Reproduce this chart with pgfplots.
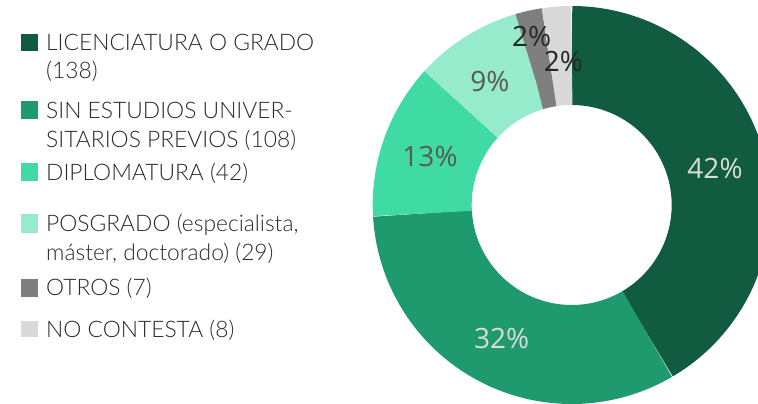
\documentclass[border=0pt]{standalone}
\usepackage{pgfplots}
\usepackage{pgfplotstable}
\pgfplotsset{compat=1.18}
\usepackage{fontspec}
\setmainfont{Lato}[UprightFont=* Light]
\newfontfamily\pctfont{Open Sans}

\definecolor{cLic}{HTML}{115C40}
\definecolor{cSin}{HTML}{1E9A6E}
\definecolor{cDip}{HTML}{40DBA4}
\definecolor{cPos}{HTML}{95EBCB}
\definecolor{cOtr}{HTML}{7F7F7F}
\definecolor{cNoc}{HTML}{D9D9D9}
\definecolor{txt}{HTML}{2A2A2A}

\pgfplotstableread{
cat value
lic 138
sin 108
dip 42
pos 29
otr 7
noc 8
}\datatable

\pgfplotstablegetelem{0}{value}\of\datatable \edef\vA{\pgfplotsretval}
\pgfplotstablegetelem{1}{value}\of\datatable \edef\vB{\pgfplotsretval}
\pgfplotstablegetelem{2}{value}\of\datatable \edef\vC{\pgfplotsretval}
\pgfplotstablegetelem{3}{value}\of\datatable \edef\vD{\pgfplotsretval}
\pgfplotstablegetelem{4}{value}\of\datatable \edef\vE{\pgfplotsretval}
\pgfplotstablegetelem{5}{value}\of\datatable \edef\vF{\pgfplotsretval}
\pgfmathsetmacro\tot{\vA+\vB+\vC+\vD+\vE+\vF}
\pgfmathsetmacro\aA{90-360*((\vA)/\tot)}
\pgfmathsetmacro\aB{90-360*((\vA+\vB)/\tot)}
\pgfmathsetmacro\aC{90-360*((\vA+\vB+\vC)/\tot)}
\pgfmathsetmacro\aD{90-360*((\vA+\vB+\vC+\vD)/\tot)}
\pgfmathsetmacro\aE{90-360*((\vA+\vB+\vC+\vD+\vE)/\tot)}

\def\cx{571.7}
\def\cy{199}
\def\Rm{149.5}

% sector as a thick arc with butt caps: #1 from angle, #2 to angle, #3 colour
\newcommand\sector[3]{%
  \addplot[draw=#3, line width=99pt, line cap=butt, domain=#1:#2, samples=120, no marks] ({\cx+\Rm*cos(x)},{\cy+\Rm*sin(x)});
}

\begin{document}
\begin{tikzpicture}
\useasboundingbox (0,0) rectangle (758pt,404pt);
\begin{axis}[
  at={(0,0)}, anchor=south west,
  scale only axis, width=758pt, height=404pt,
  xmin=0, xmax=758, ymin=0, ymax=404,
  hide axis, clip=true,
]
\sector{\aA}{90}{cLic}
\sector{\aB}{\aA}{cSin}
\sector{\aC}{\aB}{cDip}
\sector{\aD}{\aC}{cPos}
\sector{\aE}{\aD}{cOtr}
\sector{-270}{\aE}{cNoc}

% percentage labels
\begin{scope}[every node/.style={font=\pctfont\fontsize{28}{30}\selectfont, inner sep=0pt}]
\node[text=cNoc!95!white] at (axis cs:715,235) {42\%};
\node[text=cNoc!95!white] at (axis cs:501.7,65.7) {32\%};
\node[text=black!65] at (axis cs:430,247.3) {13\%};
\node[text=black!65] at (axis cs:490,322.3) {9\%};
\node[text=black!85] at (axis cs:531.7,367.3) {2\%};
\node[text=black!85] at (axis cs:563.3,342.3) {2\%};
\end{scope}

% legend
\begin{scope}[every node/.style={font=\fontsize{22.8}{28.5}\selectfont, text=txt, inner sep=0pt, anchor=base west}]
\fill[cLic] (axis cs:21,353.3) rectangle (axis cs:38,370.3);
\node at (axis cs:46,353) {LICENCIATURA O GRADO};
\node at (axis cs:46,325) {(138)};
\fill[cSin] (axis cs:21,285) rectangle (axis cs:38,303);
\node at (axis cs:46,285) {SIN ESTUDIOS UNIVER-};
\node at (axis cs:46,256) {SITARIOS PREVIOS (108)};
\fill[cDip] (axis cs:21,222.7) rectangle (axis cs:38,241);
\node at (axis cs:46,223) {DIPLOMATURA (42)};
\fill[cPos] (axis cs:21,171.3) rectangle (axis cs:38,190);
\node at (axis cs:46,172.3) {POSGRADO (especialista,};
\node at (axis cs:46,143.3) {máster, doctorado) (29)};
\fill[cOtr] (axis cs:21,107.3) rectangle (axis cs:38,125.3);
\node at (axis cs:46,108) {OTROS (7)};
\fill[cNoc] (axis cs:21,66.7) rectangle (axis cs:38,83.3);
\node at (axis cs:46,66) {NO CONTESTA (8)};
\end{scope}
\end{axis}
\end{tikzpicture}
\end{document}
